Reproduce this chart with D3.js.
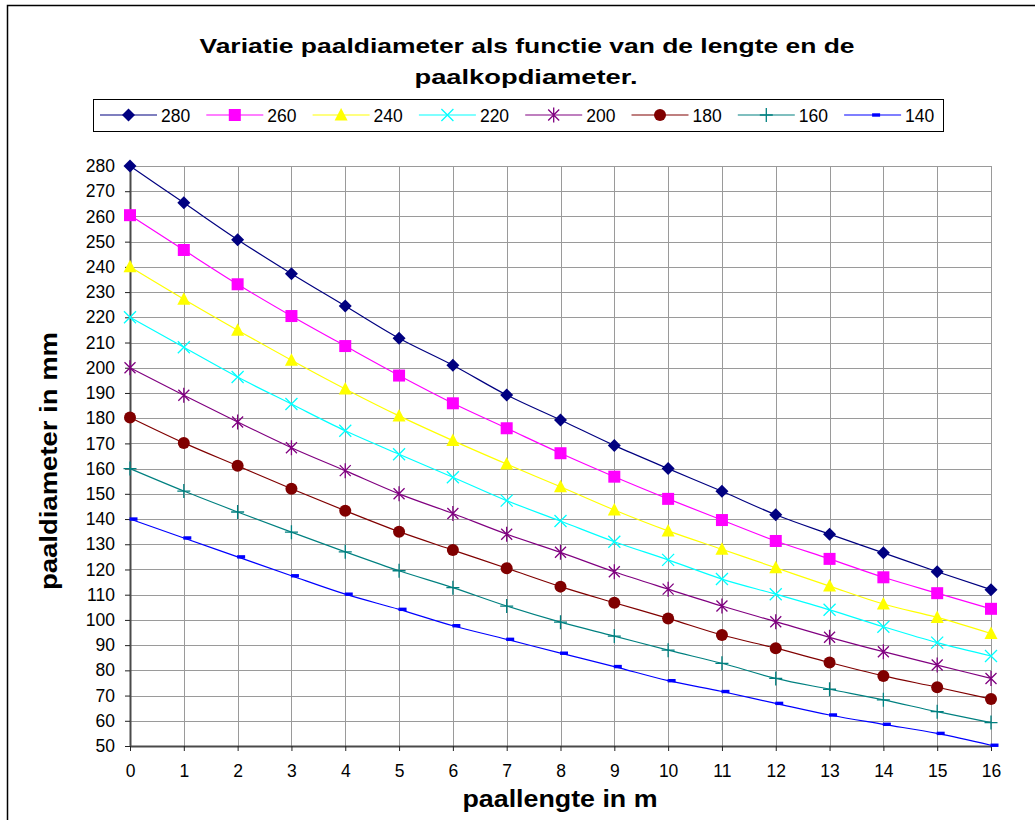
<!DOCTYPE html>
<html>
<head>
<meta charset="utf-8">
<script src="https://cdn.jsdelivr.net/npm/d3@7"></script>
<style>
  html, body { margin: 0; padding: 0; background: #fff; }
  svg { display: block; font-family: Arial, "Liberation Sans", sans-serif; }
</style>
</head>
<body>
<div id="chart"></div>
<script>
// Pile length in m (x categories).
const lengths = [0, 1, 2, 3, 4, 5, 6, 7, 8, 9, 10, 11, 12, 13, 14, 15, 16];

// Pile diameter in mm for each pile head diameter.
const d280 = [280, 265.4, 250.8, 237.3, 224.5, 211.7, 201, 189.2, 179.3, 169.2, 160, 151, 141.7, 134, 126.6, 119.1, 112];
const d260 = [260.5, 246.7, 233.1, 220.5, 208.6, 196.9, 185.9, 176, 166.1, 156.8, 148, 139.6, 131.3, 124.2, 116.9, 110.6, 104.4];
const d240 = [240, 227.2, 214.9, 203, 191.6, 180.9, 171.1, 161.8, 152.8, 143.6, 135.3, 128, 120.7, 113.4, 106.3, 101, 94.6];
const d220 = [220, 208.1, 196.3, 185.6, 175, 165.7, 156.6, 147.3, 139.2, 131, 123.8, 116.2, 110.2, 104, 97.3, 91, 85.7];
const d200 = [200, 189.1, 178.5, 168.3, 159.2, 150, 142.2, 134, 126.8, 119.1, 112.2, 105.5, 99.3, 93.1, 87.4, 82.1, 76.8];
const d180 = [180.3, 170.2, 161.1, 152, 143.3, 135, 127.7, 120.5, 113.2, 106.8, 100.6, 94, 88.8, 83.1, 77.8, 73.3, 68.6];
const d160 = [160, 151.1, 142.8, 134.8, 127, 119.5, 112.8, 105.5, 99.1, 93.6, 88, 82.8, 76.8, 72.5, 68.3, 63.6, 59.3];
const d140 = [140, 132.5, 125, 117.5, 110.2, 104.2, 97.7, 92.3, 86.8, 81.5, 75.9, 71.6, 66.9, 62.3, 58.6, 55, 50.3];

// Series names as shown in the legend.
const seriesNames = ['280', '260', '240', '220', '200', '180', '160', '140'];
const seriesValues = [d280, d260, d240, d220, d200, d180, d160, d140];
const seriesColors = ['#000080', '#ff00ff', '#ffff00', '#00ffff', '#800080', '#800000', '#008080', '#0000ff'];
const seriesMarkers = ['diamond', 'square', 'triangle', 'cross', 'star', 'circle', 'plus', 'dash'];

// Axis ticks.
const yTicks = d3.range(50, 281, 10);
const xTicks = lengths;

const width = 1035;
const height = 820;

const svg = d3.select('#chart').append('svg')
  .attr('width', width)
  .attr('height', height);

// Chart frame (left and top edges are visible).
svg.append('path')
  .attr('d', 'M7.5,' + height + 'V5.5H' + width)
  .attr('fill', 'none')
  .attr('stroke', '#000')
  .attr('stroke-width', 1.5);

const x = d3.scaleLinear().domain([0, 16]).range([130, 991]);
const y = d3.scaleLinear().domain([50, 280]).range([746, 166]);

// Gridlines.
const grid = svg.append('g').attr('stroke', '#9a9a9a').attr('stroke-width', 1);
grid.selectAll('line.h')
  .data(yTicks.filter(v => v > 50))
  .join('line')
  .attr('x1', x(0)).attr('x2', x(16))
  .attr('y1', d => Math.round(y(d)) + 0.5).attr('y2', d => Math.round(y(d)) + 0.5);
grid.selectAll('line.v')
  .data(xTicks.filter(v => v > 0))
  .join('line')
  .attr('y1', y(280)).attr('y2', y(50))
  .attr('x1', d => Math.round(x(d)) + 0.5).attr('x2', d => Math.round(x(d)) + 0.5);

// Axes.
const yAxis = svg.append('g')
  .attr('transform', 'translate(' + x(0) + ',0)')
  .call(d3.axisLeft(y).tickValues(yTicks).tickSizeInner(5).tickSizeOuter(0).tickPadding(10));
const xAxis = svg.append('g')
  .attr('transform', 'translate(0,' + y(50) + ')')
  .call(d3.axisBottom(x).tickValues(xTicks).tickSizeInner(5).tickSizeOuter(0).tickPadding(14));

[yAxis, xAxis].forEach(ax => {
  ax.select('.domain').attr('stroke', '#4a4a4a').attr('stroke-width', 2);
  ax.selectAll('.tick line').attr('stroke', '#222');
  ax.selectAll('.tick text')
    .attr('fill', '#000')
    .style('font-size', '17.5px')
    .style('font-family', 'Arial, "Liberation Sans", sans-serif');
});

// Marker drawing.
function drawMarker(g, type, color) {
  if (type === 'diamond') {
    g.append('path').attr('d', 'M0,-6.5L6.5,0L0,6.5L-6.5,0Z').attr('fill', color);
  } else if (type === 'square') {
    g.append('rect').attr('x', -6).attr('y', -6).attr('width', 12).attr('height', 12).attr('fill', color);
  } else if (type === 'triangle') {
    g.append('path').attr('d', 'M0,-7L6.5,5.5L-6.5,5.5Z').attr('fill', color);
  } else if (type === 'cross') {
    g.append('path').attr('d', 'M-6,-6L6,6M-6,6L6,-6').attr('stroke', color).attr('stroke-width', 1.3);
  } else if (type === 'star') {
    g.append('path').attr('d', 'M-5.5,-5.5L5.5,5.5M-5.5,5.5L5.5,-5.5M0,-7.5V7.5').attr('stroke', color).attr('stroke-width', 1.3);
  } else if (type === 'circle') {
    g.append('circle').attr('r', 6).attr('fill', color);
  } else if (type === 'plus') {
    g.append('path').attr('d', 'M0,-7V7M-6.5,0H6.5').attr('stroke', color).attr('stroke-width', 1.3);
  } else if (type === 'dash') {
    g.append('rect').attr('x', -0.5).attr('y', -1.7).attr('width', 8).attr('height', 3.4).attr('fill', color);
  }
}

// Series lines and markers.
const line = d3.line()
  .x((d, i) => x(lengths[i]))
  .y(d => y(d))
  .curve(d3.curveMonotoneX);

seriesValues.forEach((values, s) => {
  svg.append('path')
    .datum(values)
    .attr('fill', 'none')
    .attr('stroke', seriesColors[s])
    .attr('stroke-width', 1.2)
    .attr('d', line);
});

seriesValues.forEach((values, s) => {
  svg.append('g').selectAll('g')
    .data(values)
    .join('g')
    .attr('transform', (d, i) => 'translate(' + x(lengths[i]) + ',' + y(d) + ')')
    .each(function() { drawMarker(d3.select(this), seriesMarkers[s], seriesColors[s]); });
});

// Title.
const title = svg.append('g')
  .attr('text-anchor', 'middle')
  .style('font-weight', 'bold')
  .style('font-size', '21px');
title.append('text')
  .attr('x', 527).attr('y', 53)
  .attr('textLength', 655).attr('lengthAdjust', 'spacingAndGlyphs')
  .text('Variatie paaldiameter als functie van de lengte en de');
title.append('text')
  .attr('x', 526).attr('y', 84)
  .attr('textLength', 223).attr('lengthAdjust', 'spacingAndGlyphs')
  .text('paalkopdiameter.');

// Legend.
const legend = svg.append('g');
legend.append('rect')
  .attr('x', 93.5).attr('y', 99.5)
  .attr('width', 850).attr('height', 32)
  .attr('fill', '#fff')
  .attr('stroke', '#000');

seriesNames.forEach((name, s) => {
  const lx = 100 + s * 106.3;
  const item = legend.append('g').attr('transform', 'translate(' + lx + ',115)');
  item.append('line')
    .attr('x1', 0).attr('x2', 57)
    .attr('stroke', seriesColors[s])
    .attr('stroke-width', 1.2);
  drawMarker(item.append('g').attr('transform', 'translate(28.5,0)'), seriesMarkers[s], seriesColors[s]);
  item.append('text')
    .attr('x', 61).attr('y', 6.5)
    .style('font-size', '17.5px')
    .text(name);
});

// Axis titles.
svg.append('text')
  .attr('text-anchor', 'middle')
  .attr('x', 560).attr('y', 807)
  .attr('textLength', 195).attr('lengthAdjust', 'spacingAndGlyphs')
  .style('font-weight', 'bold')
  .style('font-size', '24px')
  .text('paallengte in m');

svg.append('text')
  .attr('text-anchor', 'middle')
  .attr('transform', 'translate(57,461) rotate(-90)')
  .attr('textLength', 258).attr('lengthAdjust', 'spacingAndGlyphs')
  .style('font-weight', 'bold')
  .style('font-size', '24px')
  .text('paaldiameter in mm');
</script>
</body>
</html>
